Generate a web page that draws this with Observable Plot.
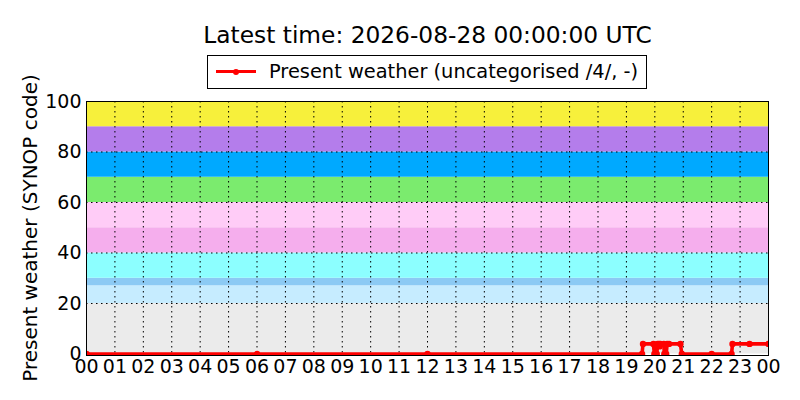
<!DOCTYPE html>
<html>
<head>
<meta charset="utf-8">
<script src="https://cdn.jsdelivr.net/npm/d3@7"></script>
<script src="https://cdn.jsdelivr.net/npm/@observablehq/plot@0.6"></script>
<style>
  body { margin: 0; background: #fff; font-family: "DejaVu Sans", sans-serif; }
  #wrap { position: relative; width: 800px; height: 400px; }
  #title { position: absolute; left: 0; width: 855px; top: 21px; text-align: center; font-size: 23.3px; color: #000; }
  #legend { position: absolute; left: 207px; top: 55px; width: 438px; height: 32px; border: 1px solid #000; background: #fff; font-size: 19.4px; }
  #legend .swatch { position: absolute; left: 8px; top: 14px; width: 40px; height: 3px; background: red; }
  #legend .swatch::after { content: ""; position: absolute; left: 17px; top: -1.5px; width: 6px; height: 6px; border-radius: 3px; background: red; }
  #legend .label { position: absolute; left: 61px; top: 4px; white-space: nowrap; }
  #ylabel { position: absolute; left: 30px; top: 228px; transform: translate(-50%, -50%) rotate(-90deg); font-size: 20px; white-space: nowrap; }
</style>
</head>
<body>
<div id="wrap">
  <div id="plot"></div>
  <div id="title">Latest time: 2026-08-28 00:00:00 UTC</div>
  <div id="legend"><div class="swatch"></div><div class="label">Present weather (uncategorised /4/, -)</div></div>
  <div id="ylabel">Present weather (SYNOP code)</div>
</div>
<script>
// background bands for SYNOP code groups
const bandLow = [0, 20, 27, 30, 40, 50, 60, 70, 80, 90];
const bandHigh = [20, 27, 30, 40, 50, 60, 70, 80, 90, 100];
const bandColor = ["#ebebeb", "#c6ecff", "#8ccaf4", "#8cffff", "#f5aeed", "#ffccf7", "#7beb6e", "#00a9ff", "#b47deb", "#f7f03b"];

// observations (UTC) and present weather code
const obsTime = [
  "2026-08-27T00:00", "2026-08-27T06:00", "2026-08-27T12:00", "2026-08-27T19:33",
  "2026-08-27T19:35", "2026-08-27T19:57", "2026-08-27T19:59", "2026-08-27T20:04",
  "2026-08-27T20:06", "2026-08-27T20:09", "2026-08-27T20:10", "2026-08-27T20:12",
  "2026-08-27T20:19", "2026-08-27T20:20", "2026-08-27T20:24", "2026-08-27T20:26",
  "2026-08-27T20:30", "2026-08-27T20:54", "2026-08-27T20:57", "2026-08-27T22:00",
  "2026-08-27T22:42", "2026-08-27T22:44", "2026-08-27T23:20", "2026-08-28T00:00"
];
const obsCode = [0, 0, 0, 0, 4, 4, 0, 0, 4, 4, 3, 4, 4, 0, 0, 4, 4, 4, 0, 0, 0, 4, 4, 4];

const dayStart = new Date("2026-08-27T00:00Z");
const dayEnd = new Date("2026-08-28T00:00Z");

const bands = bandLow.map((lo, i) => ({ lo, hi: bandHigh[i], color: bandColor[i] }));
const obs = obsTime.map((t, i) => ({ t: new Date(t + "Z"), code: obsCode[i] }));
const hours = d3.utcHour.range(dayStart, new Date(+dayEnd + 1));

const chart = Plot.plot({
  width: 800,
  height: 400,
  marginTop: 101,
  marginBottom: 45,
  marginLeft: 86,
  marginRight: 32,
  style: { fontFamily: "DejaVu Sans, sans-serif", fontSize: "19px", color: "#000", background: "#fff" },
  x: { type: "utc", domain: [dayStart, dayEnd] },
  y: { domain: [-0.6, 100] },
  marks: [
    Plot.rect(bands, { y1: "lo", y2: "hi", fill: "color" }),
    Plot.gridX(hours, { stroke: "#000", strokeOpacity: 1, strokeDasharray: "1.5,3.5" }),
    Plot.gridY([20, 40, 60, 80], { stroke: "#000", strokeOpacity: 1, strokeDasharray: "1.5,3.5" }),
    Plot.line(obs, { x: "t", y: "code", stroke: "red", strokeWidth: 3.6, strokeLinejoin: "round", clip: true }),
    Plot.dot(obs, { x: "t", y: "code", r: 3.2, fill: "red", clip: true }),
    Plot.frame({ stroke: "#000" }),
    Plot.axisX(hours, { tickSize: 0, tickPadding: 4, tickFormat: d3.utcFormat("%H"), label: null, fontSize: 19 }),
    Plot.axisY([0, 20, 40, 60, 80, 100], { tickSize: 0, tickPadding: 5, label: null, fontSize: 19 })
  ]
});

document.getElementById("plot").appendChild(chart);
</script>
</body>
</html>
